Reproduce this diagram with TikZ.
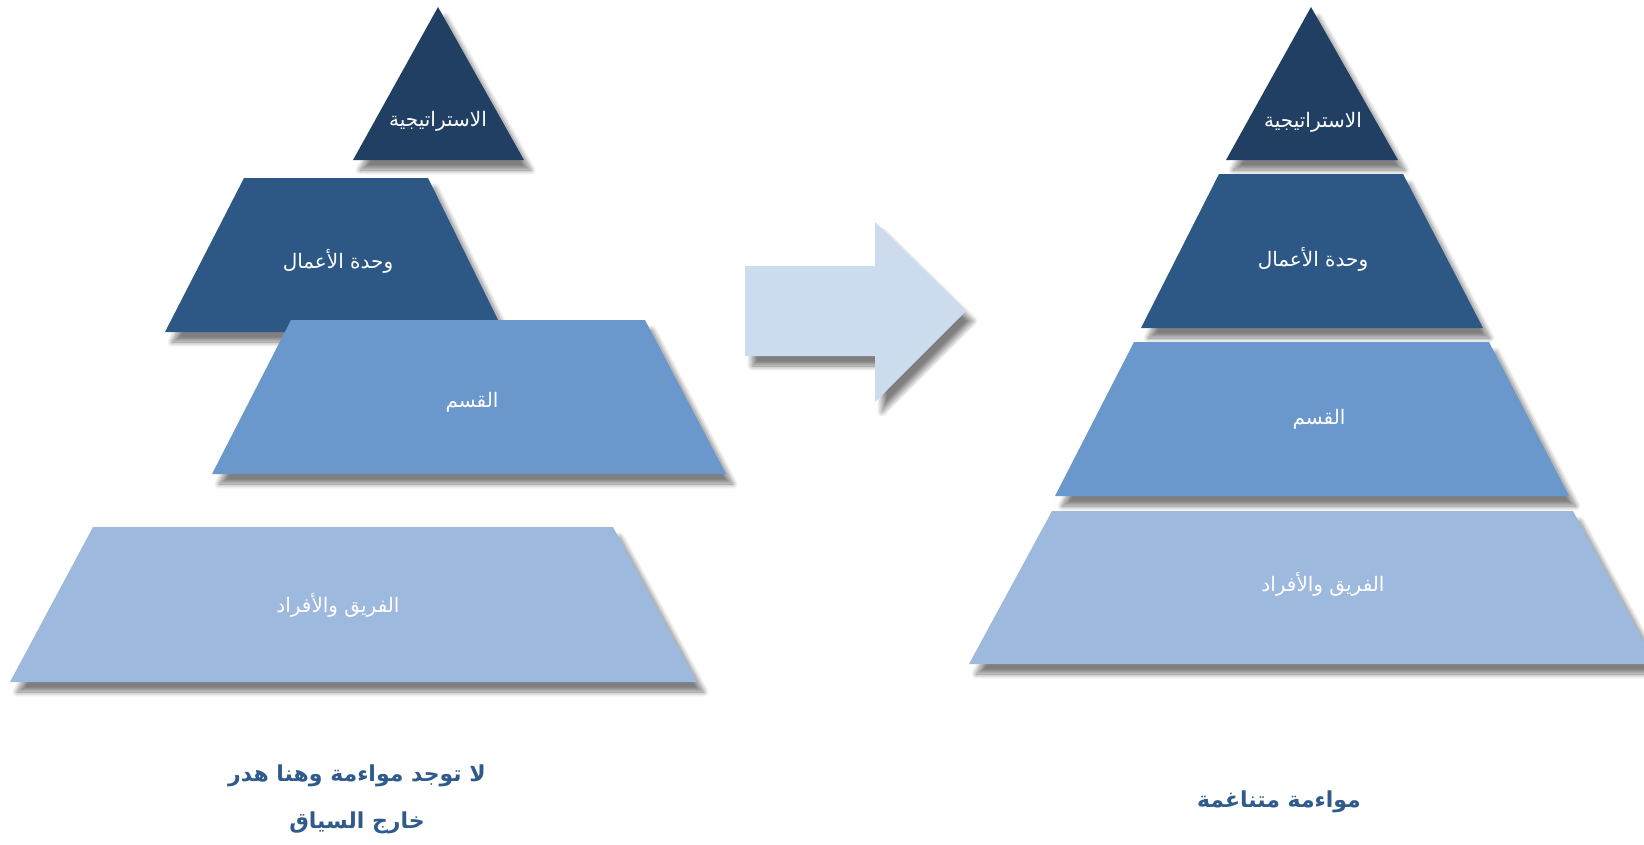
\documentclass[tikz,border=0pt]{standalone}
\usepackage{fontspec}
\newfontfamily\arabicfont[Script=Arabic]{DejaVu Sans}
\TeXXeTstate=1
\usetikzlibrary{shadows.blur}

\definecolor{tierTop}{HTML}{213F63}
\definecolor{tierTwo}{HTML}{2D5886}
\definecolor{tierThree}{HTML}{6A98CC}
\definecolor{tierFour}{HTML}{9DB9DE}
\definecolor{arrowFill}{HTML}{CCDCEE}
\definecolor{captionBlue}{HTML}{2F5A8C}

\tikzset{
  softshadow/.style={blur shadow={shadow xshift=7pt, shadow yshift=-10pt,
      shadow blur radius=5pt, shadow blur steps=12, shadow opacity=50}},
  tier/.style={softshadow, fill=#1},
  tierlabel/.style={text=white, font=\arabicfont\fontsize{20}{24}\selectfont, inner sep=0pt},
  caption/.style={text=captionBlue, font=\arabicfont\bfseries\fontsize{22}{26}\selectfont, inner sep=0pt}
}

\begin{document}
\begin{tikzpicture}[x=1pt, y=-1pt]
\useasboundingbox (0,0) rectangle (1644,844);
\clip (0,0) rectangle (1644,844);

% ---- misaligned stack (left) ----
\fill[tier=tierTop]   (438,7) -- (524,160) -- (353,160) -- cycle;
\fill[tier=tierTwo]   (244,178) -- (428,178) -- (504,332) -- (165,332) -- cycle;
\fill[tier=tierThree] (291,320) -- (645,320) -- (726,474) -- (212,474) -- cycle;
\fill[tier=tierFour]  (93,527) -- (613,527) -- (697,682) -- (10,682) -- cycle;

\node[tierlabel] (lStrategy) at (438,121) {\beginR الاستراتيجية\endR};
\node[tierlabel] (lUnit)     at (338,261) {\beginR وحدة الأعمال\endR};
\node[tierlabel] (lDept)     at (472,402) {\beginR القسم\endR};
\node[tierlabel] (lTeam)     at (338,605) {\beginR الفريق والأفراد\endR};

% ---- transition arrow ----
\fill[softshadow, fill=arrowFill]
  (745,266) -- (875,266) -- (875,222) -- (966,311) -- (875,402) -- (875,356) -- (745,356) -- cycle;

% ---- aligned pyramid (right) ----
\fill[tier=tierTop]   (1311,7) -- (1398,160) -- (1226,160) -- cycle;
\fill[tier=tierTwo]   (1219,174) -- (1403,174) -- (1483,328) -- (1141,328) -- cycle;
\fill[tier=tierThree] (1134,342) -- (1489,342) -- (1569,496) -- (1055,496) -- cycle;
\fill[tier=tierFour]  (1052,511) -- (1573,511) -- (1656,664) -- (969,664) -- cycle;

\node[tierlabel] (rStrategy) at (1313,122) {\beginR الاستراتيجية\endR};
\node[tierlabel] (rUnit)     at (1313,259) {\beginR وحدة الأعمال\endR};
\node[tierlabel] (rDept)     at (1319,419) {\beginR القسم\endR};
\node[tierlabel] (rTeam)     at (1323,584) {\beginR الفريق والأفراد\endR};

% ---- captions ----
\node[caption] (capLeftA) at (357,776) {\beginR لا توجد مواءمة وهنا هدر\endR};
\node[caption] (capLeftB) at (357,823) {\beginR خارج السياق\endR};
\node[caption] (capRight) at (1279,802) {\beginR مواءمة متناغمة\endR};
\end{tikzpicture}
\end{document}
